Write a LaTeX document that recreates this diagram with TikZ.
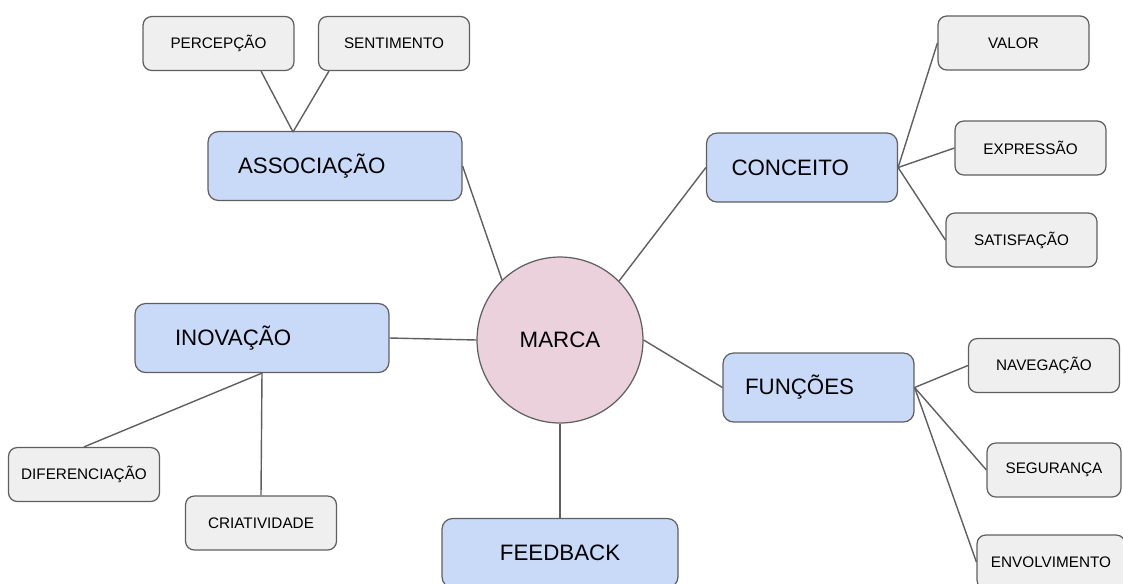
\documentclass[tikz,border=0pt]{standalone}
\usepackage{fontspec}
\setmainfont{Liberation Sans}
\usepackage{tikz}

\definecolor{topicblue}{HTML}{C9DAF8}
\definecolor{leafgray}{HTML}{EFEFEF}
\definecolor{marcapink}{HTML}{EAD1DC}
\definecolor{edgegray}{HTML}{5F5F5F}

\begin{document}
\begin{tikzpicture}[x=0.02cm,y=-0.02cm,-]
            \tikzstyle{topic}=[rectangle,rounded corners=6pt,draw=edgegray,line width=0.7pt,fill=topicblue,minimum height=1.38cm,inner sep=0pt,font=\fontsize{12.7}{15}\selectfont]
            \tikzstyle{indent}=[align=left,inner xsep=#1]
            \tikzstyle{leaf}=[rectangle,rounded corners=5pt,draw=edgegray,line width=0.7pt,fill=leafgray,minimum width=3.02cm,minimum height=1.08cm,inner sep=0pt,font=\fontsize{8.7}{10}\selectfont]
            \tikzstyle{hub}=[circle,draw=edgegray,line width=0.7pt,fill=marcapink,minimum size=3.32cm,inner sep=0pt,font=\fontsize{12.7}{15}\selectfont]
            \tikzstyle{link}=[draw=edgegray,line width=0.8pt]
            \useasboundingbox (0,0) rectangle (1123,583);
            \clip (0,0) rectangle (1123,583);

                    \node[hub] (marca) at (560, 340){MARCA};

                    \node[topic,indent=0.6cm,text width=3.88cm] (assoc) at (335, 166){ASSOCIAÇÃO};
                    \node[topic,indent=0.5cm,text width=2.82cm] (conc) at (802, 167.5){CONCEITO};
                    \node[topic,indent=0.44cm,text width=2.94cm] (func) at (818.5, 387.5){FUNÇÕES};
                    \node[topic,indent=0.8cm,text width=3.48cm] (inov) at (262, 338){INOVAÇÃO};
                    \node[topic,minimum width=4.72cm] (feed) at (560, 553){FEEDBACK};

                    \node[leaf] (perc) at (218.5, 43.5){PERCEPÇÃO};
                    \node[leaf] (sent) at (394, 43.5){SENTIMENTO};

                    \node[leaf] (valor) at (1013.5, 43){VALOR};
                    \node[leaf] (expr) at (1030.5, 148){EXPRESSÃO};
                    \node[leaf] (satis) at (1021.5, 240){SATISFAÇÃO};

                    \node[leaf] (naveg) at (1044, 365.5){NAVEGAÇÃO};
                    \node[leaf,minimum width=2.68cm] (segur) at (1054, 470){SEGURANÇA};
                    \node[leaf,minimum width=2.96cm] (envol) at (1051, 562){ENVOLVIMENTO};

                    \node[leaf] (difer) at (84, 474.5){DIFERENCIAÇÃO};
                    \node[leaf] (criat) at (261, 523){CRIATIVIDADE};

                    \coordinate (assoc-top) at (293, 132);

                \foreach \from/\to in {marca.134/assoc.east, marca.45/conc.west, marca.east/func.west, marca.west/inov.east, marca.south/feed.north, perc.-33/assoc-top, sent.-157/assoc-top, conc.east/valor.west, conc.east/expr.west, conc.east/satis.west, func.east/naveg.west, func.east/segur.west, func.east/envol.west, inov.south/difer.north, inov.south/criat.north}
                    \draw[link] (\from) -- (\to);
        \end{tikzpicture}
\end{document}
